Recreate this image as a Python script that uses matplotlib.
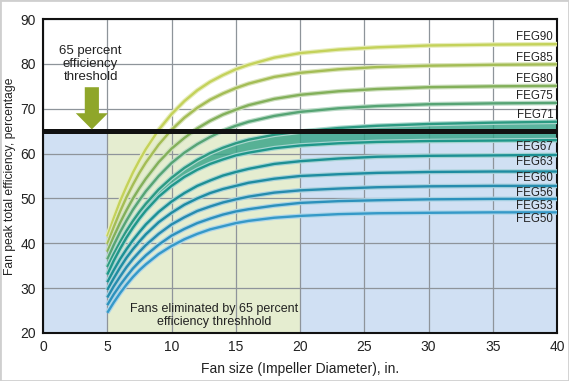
import numpy as np
import matplotlib
matplotlib.use('Agg')
import matplotlib.pyplot as plt
import matplotlib.patheffects as pe
from matplotlib.colors import to_rgb

plt.rcParams['font.family'] = ['Liberation Sans Narrow', 'DejaVu Sans Condensed', 'Liberation Sans']

# fan size, in.
fan_size = [5, 5.5, 6, 6.5, 7, 7.5, 8, 9, 10, 11, 12, 13, 14, 15, 16, 18, 20, 23, 26, 30, 35, 40]

# peak total efficiency for each FEG grade
feg90 = [41.5, 45.6, 49.4, 52.7, 55.8, 58.5, 61.0, 65.3, 68.8, 71.7, 74.1, 76.0, 77.5, 78.8, 79.8, 81.4, 82.4, 83.2, 83.7, 84.1, 84.3, 84.4]
feg85 = [39.8, 43.6, 47.1, 50.3, 53.1, 55.7, 58.0, 62.0, 65.3, 68.0, 70.2, 72.0, 73.4, 74.6, 75.6, 77.1, 78.0, 78.8, 79.3, 79.6, 79.8, 79.9]
feg80 = [38.1, 41.5, 44.6, 47.4, 50.0, 52.3, 54.4, 58.1, 61.1, 63.5, 65.6, 67.3, 68.7, 69.8, 70.8, 72.2, 73.1, 73.9, 74.4, 74.8, 75.0, 75.1]
feg75 = [36.4, 39.6, 42.5, 45.1, 47.5, 49.6, 51.6, 55.0, 57.9, 60.2, 62.1, 63.7, 65.1, 66.2, 67.1, 68.4, 69.3, 70.1, 70.6, 71.0, 71.2, 71.3]
feg71 = [34.7, 37.6, 40.3, 42.8, 45.0, 47.0, 48.8, 52.0, 54.6, 56.8, 58.6, 60.1, 61.3, 62.3, 63.1, 64.2, 64.9, 65.7, 66.2, 66.6, 66.9, 67.1]
feg67 = [33.0, 36.1, 38.8, 41.3, 43.5, 45.5, 47.3, 50.4, 52.8, 54.8, 56.4, 57.7, 58.7, 59.6, 60.2, 61.2, 61.8, 62.3, 62.6, 62.8, 62.9, 63.0]
feg63 = [31.3, 34.0, 36.5, 38.7, 40.7, 42.5, 44.2, 47.0, 49.3, 51.2, 52.8, 54.0, 55.1, 55.9, 56.6, 57.7, 58.3, 58.9, 59.3, 59.5, 59.6, 59.7]
feg60 = [29.6, 32.2, 34.6, 36.8, 38.7, 40.4, 42.0, 44.7, 46.8, 48.6, 50.0, 51.2, 52.1, 52.8, 53.5, 54.4, 55.0, 55.4, 55.7, 55.9, 56.0, 56.0]
feg56 = [27.9, 30.4, 32.6, 34.7, 36.5, 38.1, 39.6, 42.1, 44.2, 45.8, 47.2, 48.2, 49.1, 49.8, 50.4, 51.3, 51.8, 52.2, 52.5, 52.7, 52.8, 52.8]
feg53 = [26.2, 28.6, 30.7, 32.6, 34.4, 35.9, 37.3, 39.7, 41.7, 43.2, 44.5, 45.5, 46.4, 47.1, 47.6, 48.4, 49.0, 49.4, 49.6, 49.8, 49.9, 49.9]
feg50 = [24.5, 26.8, 28.9, 30.8, 32.5, 34.0, 35.3, 37.6, 39.4, 40.9, 42.1, 43.1, 43.8, 44.5, 45.0, 45.7, 46.1, 46.5, 46.7, 46.8, 46.9, 46.9]

grades = ['FEG90', 'FEG85', 'FEG80', 'FEG75', 'FEG71', 'FEG67',
          'FEG63', 'FEG60', 'FEG56', 'FEG53', 'FEG50']
curves = [feg90, feg85, feg80, feg75, feg71, feg67, feg63, feg60, feg56, feg53, feg50]

threshold = 65
zone_edges = [0, 5, 20, 40]

colors = ['#c4d25a', '#a4bd55', '#83b05a', '#56a474', '#2c9a82', '#1f978a',
          '#1c9094', '#1e8ca1', '#268cae', '#2c91bc', '#3599c8']


def lighter(c, f=0.6):
    r, g, b = to_rgb(c)
    return (r + (1 - r) * f, g + (1 - g) * f, b + (1 - b) * f)


fig = plt.figure(figsize=(5.69, 3.81), dpi=100)
ax = fig.add_axes([0.0756, 0.126, 0.9034, 0.824])

# shaded zones below the threshold
ax.fill_between(zone_edges[0:2], 20, threshold, color='#d0e0f3', zorder=0, lw=0)
ax.fill_between(zone_edges[1:3], 20, threshold, color='#e5edd0', zorder=0, lw=0)
ax.fill_between(zone_edges[2:4], 20, threshold, color='#d0e0f3', zorder=0, lw=0)

ax.set_xlim(0, 40)
ax.set_ylim(20, 90)
ax.set_xticks(np.arange(0, 41, 5))
ax.set_yticks(np.arange(20, 91, 10))
ax.grid(True, color='#8e949a', lw=0.9, zorder=1)
ax.set_axisbelow(True)
ax.tick_params(length=0, labelsize=10, colors='#222222')
ax.tick_params(axis='x', pad=5)
ax.tick_params(axis='y', pad=5)
for s in ax.spines.values():
    s.set_color('#111111')
    s.set_linewidth(1.5)

# band between FEG71 and FEG67
ax.fill_between(fan_size, feg67, feg71, color='#33a287', alpha=0.8, zorder=2, lw=0)

for name, y, c in zip(grades, curves, colors):
    ax.plot(fan_size, y, color=c, lw=1.7, zorder=3, solid_capstyle='butt',
            solid_joinstyle='round',
            path_effects=[pe.Stroke(linewidth=3.4, foreground=lighter(c)), pe.Normal()])
    off = 1.5 if y[-1] > threshold else -1.5
    ax.text(39.7, y[-1] + off, name, ha='right', va='center', fontsize=8.3,
            color='#222222', zorder=5)

ax.axhline(threshold, color='#111111', lw=3.6, zorder=4)

ax.arrow(3.8, 74.8, 0, -9.4, width=1.1, head_width=2.5, head_length=3.6,
         length_includes_head=True, color='#8fa62a', zorder=5, lw=0)
ax.text(3.7, 80.0, '65 percent\nefficiency\nthreshold', ha='center', va='center',
        fontsize=9.5, color='#222222', linespacing=1.1, zorder=5)
ax.text(13.3, 23.9, 'Fans eliminated by 65 percent\nefficiency threshhold',
        ha='center', va='center', fontsize=9, color='#222222',
        linespacing=1.1, zorder=5)

ax.set_xlabel('Fan size (Impeller Diameter), in.', fontsize=10, color='#222222', labelpad=6)
ax.set_ylabel('Fan peak total efficiency, percentage', fontsize=8.7, color='#222222')
ax.yaxis.set_label_coords(-0.053, 0.5)

fig.patches.append(plt.Rectangle((0, 0), 1, 1, transform=fig.transFigure,
                                 fill=False, ec='#cfcfcf', lw=2))

fig.savefig('out.png', dpi=100)
